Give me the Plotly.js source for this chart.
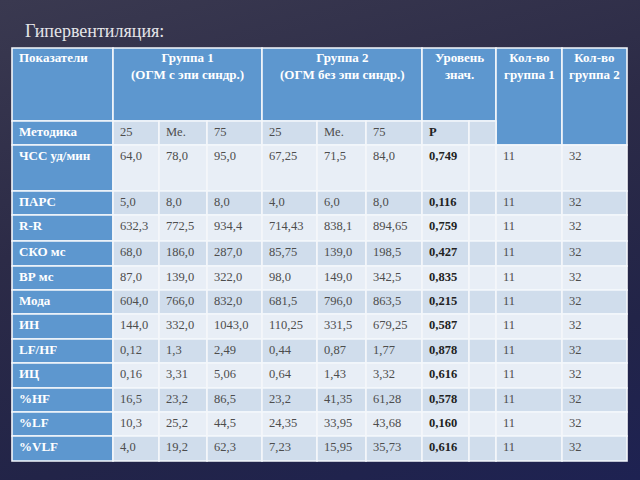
<!DOCTYPE html>
<html>
<head>
<meta charset="utf-8">
<script src="https://cdn.plot.ly/plotly-3.0.1.min.js"></script>
<style>
    html, body { margin: 0; padding: 0; }
    body {
        width: 640px;
        height: 480px;
        background: linear-gradient(165deg, #3a3950 0%, #2c2b47 40%, #222448 75%, #1e2252 100%);
    }
    #chart { width: 640px; height: 480px; }
</style>
</head>
<body>
<div id="chart"></div>
<script>
var titleText = 'Гипервентиляция:';

var headerLabels = ['Показатели', 'Группа 1<br>(ОГМ с эпи синдр.)', 'Группа 2<br>(ОГМ без эпи синдр.)', 'Уровень<br>знач.', 'Кол-во<br>группа 1', 'Кол-во<br>группа 2'];
var subHeader = ['Методика', '25', 'Me.', '75', '25', 'Me.', '75', 'P', ''];

var indicators = ['ЧСС уд/мин', 'ПАРС', 'R-R', 'СКО мс', 'ВР мс', 'Мода', 'ИН', 'LF/HF', 'ИЦ', '%HF', '%LF', '%VLF'];
var g1q25 = ['64,0', '5,0', '632,3', '68,0', '87,0', '604,0', '144,0', '0,12', '0,16', '16,5', '10,3', '4,0'];
var g1med = ['78,0', '8,0', '772,5', '186,0', '139,0', '766,0', '332,0', '1,3', '3,31', '23,2', '25,2', '19,2'];
var g1q75 = ['95,0', '8,0', '934,4', '287,0', '322,0', '832,0', '1043,0', '2,49', '5,06', '86,5', '44,5', '62,3'];
var g2q25 = ['67,25', '4,0', '714,43', '85,75', '98,0', '681,5', '110,25', '0,44', '0,64', '23,2', '24,35', '7,23'];
var g2med = ['71,5', '6,0', '838,1', '139,0', '149,0', '796,0', '331,5', '0,87', '1,43', '41,35', '33,95', '15,95'];
var g2q75 = ['84,0', '8,0', '894,65', '198,5', '342,5', '863,5', '679,25', '1,77', '3,32', '61,28', '43,68', '35,73'];
var pValue = ['0,749', '0,116', '0,759', '0,427', '0,835', '0,215', '0,587', '0,878', '0,616', '0,578', '0,160', '0,616'];
var nGroup1 = ['11', '11', '11', '11', '11', '11', '11', '11', '11', '11', '11', '11'];
var nGroup2 = ['32', '32', '32', '32', '32', '32', '32', '32', '32', '32', '32', '32'];

// layout of the grid (page pixels)
var colX = [12, 113, 159, 207, 262, 317, 366, 422, 469, 496, 562, 627];
var headTop = 48;
var rowY = [121, 145, 191, 215, 241, 266, 290, 314, 339, 363, 388, 412, 436, 461];
// header spans: [first col, last col + 1, spans Методика row too]
var headSpan = [[0, 1, false], [1, 4, false], [4, 7, false], [7, 9, false], [9, 10, true], [10, 11, true]];

var blue = '#5d97cf';
var bandDark = '#d0ddec';
var bandLight = '#e8eef6';
var serif = 'Liberation Serif, DejaVu Serif, serif';

var shapes = [];
var notes = [];

function cell(x0, x1, y0, y1, fill) {
    shapes.push({
        type: 'rect', xref: 'x', yref: 'y',
        x0: x0, x1: x1, y0: y0, y1: y1,
        fillcolor: fill,
        line: { color: '#f4f7fb', width: 1.6 },
        layer: 'below'
    });
}

function text(x, y, s, opts) {
    notes.push({
        xref: 'x', yref: 'y', x: x, y: y,
        text: s, showarrow: false,
        xanchor: opts.anchor || 'left', yanchor: 'top',
        align: opts.anchor === 'center' ? 'center' : 'left',
        font: { family: serif, size: opts.size || 12.5, color: opts.color || '#4d4d4d', weight: opts.bold ? 'bold' : 'normal' }
    });
}

// header
headSpan.forEach(function (h, i) {
    var x0 = colX[h[0]], x1 = colX[h[1]];
    var y1 = h[2] ? rowY[1] : rowY[0];
    cell(x0, x1, headTop, y1, blue);
    if (i === 0) {
        text(x0 + 5, headTop, headerLabels[i], { bold: true, color: '#ffffff', size: 13 });
    } else {
        text((x0 + x1) / 2, headTop, headerLabels[i], { bold: true, color: '#ffffff', size: 13, anchor: 'center' });
    }
});

// Методика row
subHeader.forEach(function (s, c) {
    cell(colX[c], colX[c + 1], rowY[0], rowY[1], c === 0 ? blue : bandDark);
    if (c === 0) {
        text(colX[c] + 5, rowY[0] + 1, s, { bold: true, color: '#ffffff', size: 13 });
    } else if (s) {
        text(colX[c] + 5, rowY[0] + 2, s, { bold: s === 'P', color: s === 'P' ? '#222222' : '#4d4d4d' });
    }
});

// body rows
var bodyCols = [indicators, g1q25, g1med, g1q75, g2q25, g2med, g2q75, pValue, null, nGroup1, nGroup2];
indicators.forEach(function (name, r) {
    var y0 = rowY[r + 1], y1 = rowY[r + 2];
    var band = (r % 2 === 0) ? bandLight : bandDark;
    bodyCols.forEach(function (col, c) {
        cell(colX[c], colX[c + 1], y0, y1, c === 0 ? blue : band);
        if (!col) return;
        if (c === 0) {
            text(colX[c] + 5, y0 + 1, col[r], { bold: true, color: '#ffffff', size: 13 });
        } else {
            var isP = col === pValue;
            text(colX[c] + 5, y0 + 2, col[r], { bold: isP, color: isP ? '#222222' : '#4d4d4d' });
        }
    });
});

notes.push({
    xref: 'x', yref: 'y', x: 23, y: 19, text: titleText, showarrow: false,
    xanchor: 'left', yanchor: 'top',
    font: { family: serif, size: 18, color: '#e4e4e8' }
});

var layout = {
    width: 640,
    height: 480,
    margin: { l: 0, r: 0, t: 0, b: 0 },
    paper_bgcolor: 'rgba(0,0,0,0)',
    plot_bgcolor: 'rgba(0,0,0,0)',
    showlegend: false,
    xaxis: { range: [0, 640], visible: false, fixedrange: true },
    yaxis: { range: [480, 0], visible: false, fixedrange: true },
    shapes: shapes,
    annotations: notes
};

Plotly.newPlot('chart', [{ type: 'scatter', x: [], y: [], hoverinfo: 'skip' }], layout, { staticPlot: true, displayModeBar: false });
</script>
</body>
</html>
